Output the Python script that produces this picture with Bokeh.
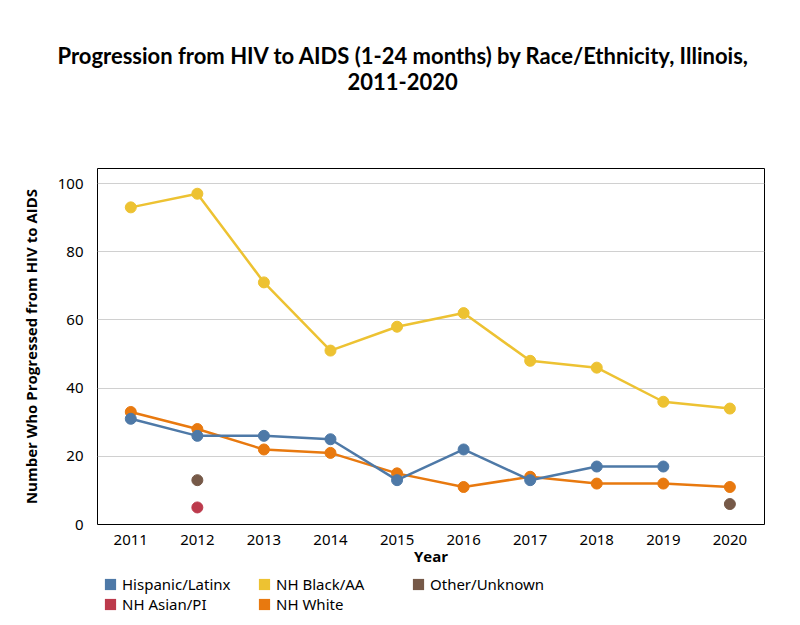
import math
from bokeh.plotting import figure
from bokeh.models import Title, Legend, LegendItem, FixedTicker, Range1d, ColumnDataSource
from bokeh.layouts import column
from bokeh.embed import file_html
from bokeh.resources import INLINE

years = [2011, 2012, 2013, 2014, 2015, 2016, 2017, 2018, 2019, 2020]
hisp_years = [2011, 2012, 2013, 2014, 2015, 2016, 2017, 2018, 2019]
hispanic = [31, 26, 26, 25, 13, 22, 13, 17, 17]
black = [93, 97, 71, 51, 58, 62, 48, 46, 36, 34]
white = [33, 28, 22, 21, 15, 11, 14, 12, 12, 11]
other_years = [2012, 2020]
other = [13, 6]
asian_years = [2012]
asian = [5]
y_ticks = [0, 20, 40, 60, 80, 100]
title_line1 = "Progression from HIV to AIDS (1-24 months) by Race/Ethnicity, Illinois,"
title_line2 = "2011-2020"
legend_labels = ["Hispanic/Latinx", "NH Black/AA", "Other/Unknown", "NH Asian/PI", "NH White"]

C_HISP = "#4E79A7"
C_BLACK = "#EDC232"
C_OTHER = "#765948"
C_ASIAN = "#BC3A4C"
C_WHITE = "#E8790F"
legend_colors = [C_HISP, C_BLACK, C_OTHER, C_ASIAN, C_WHITE]

TICK_FONT = "Noto Sans"
W = 800
MH = 570   # main plot height
LH = 55    # legend strip height
BL, BR = 97, 36

# ---- main plot ----
p = figure(width=W, height=MH, output_backend="svg", toolbar_location=None,
           x_range=Range1d(2010.5, 2020.52), y_range=Range1d(0, 104.4),
           min_border_left=BL, min_border_right=BR, min_border_top=168, min_border_bottom=46,
           title=title_line1)

TKW = dict(text_font="Lato", text_font_size="22px", text_font_style="bold", text_color="black")
p.title.align = "left"
p.title.offset = -40
p.title.standoff = 2
for k, v in TKW.items():
    setattr(p.title, k, v)
spacer = Title(text=" ", align="left", standoff=49, **TKW)
p.add_layout(spacer, "above")
t2 = Title(text=title_line2, align="left", offset=250, standoff=2, **TKW)
p.add_layout(t2, "above")

p.outline_line_color = "black"
p.outline_line_width = 1
p.xgrid.grid_line_color = None
p.ygrid.grid_line_color = "#d0d0d0"
p.ygrid.grid_line_width = 1

for ax in (p.xaxis[0], p.yaxis[0]):
    ax.axis_line_color = None
    ax.major_tick_line_color = None
    ax.minor_tick_line_color = None
    ax.major_label_text_font = TICK_FONT
    ax.major_label_text_font_size = "15px"
    ax.major_label_text_color = "black"
    ax.axis_label_text_font = "Open Sans"
    ax.axis_label_text_font_size = "15px"
    ax.axis_label_text_font_style = "bold"
    ax.axis_label_text_color = "black"

p.xaxis.ticker = FixedTicker(ticks=years)
p.yaxis.ticker = FixedTicker(ticks=y_ticks)
p.xaxis.axis_label = "Year"
p.yaxis.axis_label = "Number Who Progressed from HIV to AIDS"
p.xaxis.major_label_standoff = 4
p.yaxis.major_label_standoff = 8
p.xaxis.axis_label_standoff = -2
p.yaxis.axis_label_standoff = 14

LW = 2.5
SZ = 11

p.line(years, white, color=C_WHITE, line_width=LW)
p.scatter(years, white, color=C_WHITE, size=SZ)
p.line(hisp_years, hispanic, color=C_HISP, line_width=LW)
p.scatter(hisp_years, hispanic, color=C_HISP, size=SZ)
p.line(years, black, color=C_BLACK, line_width=LW)
p.scatter(years, black, color=C_BLACK, size=SZ)
p.scatter(other_years, other, color=C_OTHER, size=SZ)
p.scatter(asian_years, asian, color=C_ASIAN, size=SZ)

# ---- legend strip ----
lf = figure(width=W, height=LH, output_backend="svg", toolbar_location=None,
            x_range=Range1d(0, 1), y_range=Range1d(0, 1),
            min_border_left=BL, min_border_right=BR, min_border_top=0, min_border_bottom=0,
            x_axis_location=None, y_axis_location=None)
lf.xaxis.visible = False
lf.yaxis.visible = False
lf.grid.visible = False
lf.outline_line_color = None

items = []
nan = math.nan
for lab, col in zip(legend_labels, legend_colors):
    src = ColumnDataSource(dict(l=[nan], r=[nan], b=[nan], t=[nan]))
    r = lf.quad(left="l", right="r", bottom="b", top="t", source=src,
                fill_color=col, line_color=None)
    items.append(LegendItem(label=lab, renderers=[r]))

legend = Legend(items=items, location=(6, 11), orientation="horizontal", ncols=3,
                glyph_width=14, glyph_height=14, label_standoff=5, label_width=135,
                label_height=14, spacing=0, padding=0, margin=0,
                border_line_color=None, background_fill_alpha=0,
                label_text_font=TICK_FONT, label_text_font_size="15px",
                label_text_color="black")
lf.add_layout(legend, "center")

layout = column(p, lf, spacing=0)
open("out.html", "w").write(file_html(layout, INLINE))
